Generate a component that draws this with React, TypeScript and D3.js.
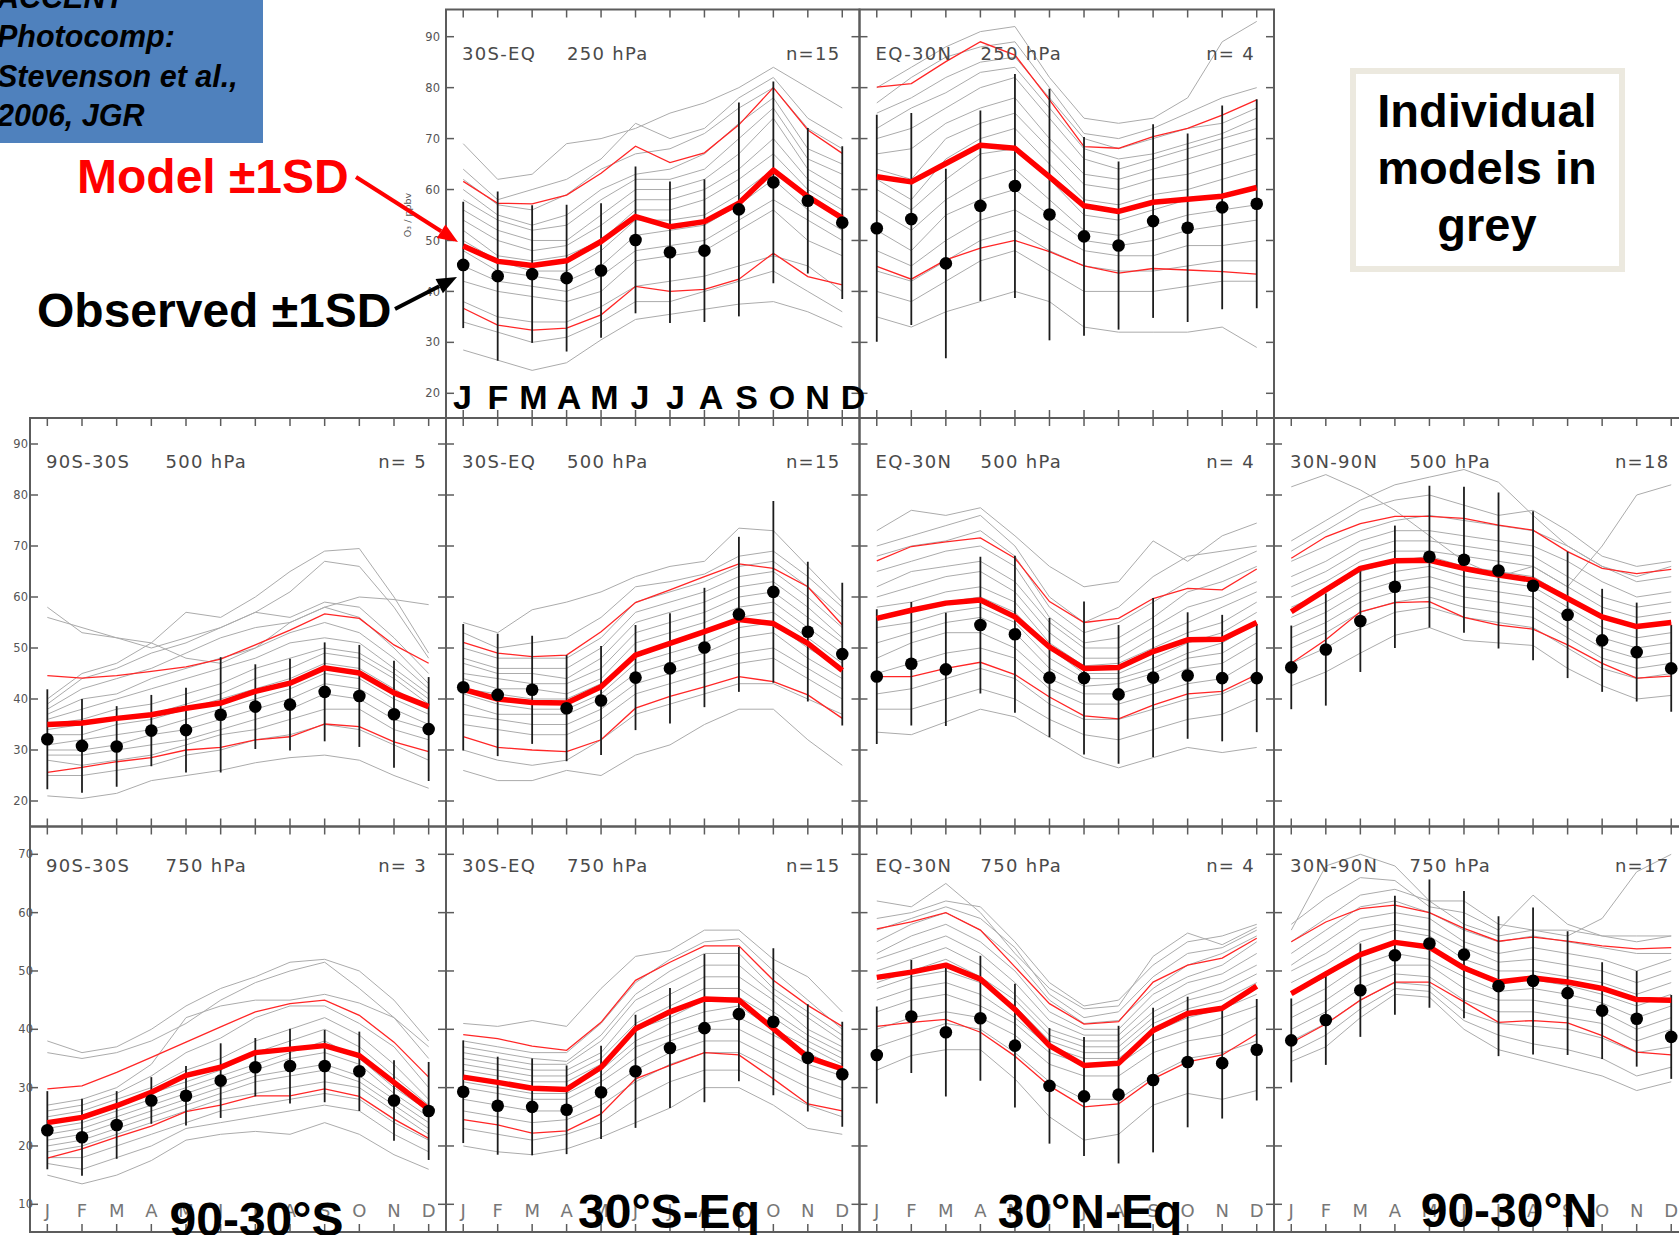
import React from 'react';
import * as d3 from 'd3';

const W = 1679;
const H = 1235;

const MONTHS = ['J', 'F', 'M', 'A', 'M', 'J', 'J', 'A', 'S', 'O', 'N', 'D'];
const Y_TICKS_UPPER = [20, 30, 40, 50, 60, 70, 80, 90];
const Y_TICKS_LOWER = [10, 20, 30, 40, 50, 60, 70];

// ---------- 30S-EQ 250 hPa ----------
const A_OBS = [45.2, 43.0, 43.4, 42.6, 44.1, 50.1, 47.7, 48.0, 56.1, 61.4, 57.8, 53.5];
const A_SD = [12.4, 16.6, 13.5, 14.4, 13.2, 14.4, 13.9, 14.0, 21.0, 19.8, 14.3, 15.0];
const A_MEAN = [48.9, 45.9, 45.1, 46.0, 49.8, 54.7, 52.7, 53.7, 57.3, 63.8, 58.6, 54.4];
const A_HI = [61.6, 57.3, 57.2, 58.9, 63.2, 68.5, 65.3, 67.2, 72.7, 80.0, 71.7, 67.1];
const A_LO = [36.7, 33.4, 32.4, 32.8, 35.4, 41.0, 40.0, 40.4, 42.4, 47.5, 42.9, 41.3];
const A_GREY = [
  [69, 62, 63, 69, 70, 72, 75, 77, 80, 84, 80, 76],
  [64, 58, 60, 62, 66, 73, 70, 72, 78, 82, 74, 70],
  [62, 57, 56, 59, 64, 67, 68, 71, 76, 80, 72, 68],
  [60, 55, 53, 55, 60, 63, 64, 67, 73, 78, 68, 65],
  [58, 54, 52, 53, 58, 62, 62, 64, 70, 76, 66, 63],
  [56, 52, 50, 50, 55, 60, 60, 62, 67, 74, 64, 60],
  [54, 50, 48, 49, 53, 58, 58, 60, 64, 70, 62, 58],
  [52, 47, 46, 47, 50, 56, 56, 58, 62, 67, 60, 56],
  [50, 46, 44, 44, 48, 54, 54, 55, 59, 64, 58, 55],
  [48, 44, 43, 42, 45, 51, 52, 53, 57, 62, 56, 52],
  [45, 42, 41, 40, 43, 48, 49, 50, 54, 58, 54, 50],
  [42, 40, 39, 38, 40, 46, 47, 48, 52, 56, 50, 47],
  [38, 35, 34, 34, 37, 41, 42, 43, 45, 47, 45, 40],
  [34, 32, 30, 31, 34, 38, 38, 40, 42, 44, 40, 36],
  [28.5, 26.5, 24.5, 26, 30.5, 34.5, 35.5, 36.5, 37.5, 38, 36, 33],
];

// ---------- EQ-30N 250 hPa ----------
const B_OBS = [52.4, 54.2, 45.5, 56.8, 60.7, 55.1, 50.8, 49.0, 53.8, 52.5, 56.5, 57.2];
const B_SD = [22.3, 20.8, 18.6, 18.7, 22.0, 24.7, 19.5, 16.5, 19.0, 18.5, 20.0, 20.5];
const B_MEAN = [62.5, 61.5, 65.1, 68.7, 68.1, 62.5, 56.8, 55.7, 57.5, 58.1, 58.7, 60.4];
const B_HI = [80.1, 80.8, 85.1, 89.0, 86.4, 77.6, 68.4, 68.1, 70.4, 72.0, 74.6, 77.6];
const B_LO = [44.9, 42.4, 46.2, 48.5, 50.0, 47.8, 45.0, 43.6, 44.5, 44.2, 43.9, 43.4];
const B_GREY = [
  [80, 84, 88, 91, 92, 82, 74, 73, 74, 78, 89, 93],
  [77, 82, 86, 88, 89, 80, 71, 70, 72, 75, 78, 80],
  [75, 78, 82, 85, 86, 78, 70, 68, 70, 72, 73, 76],
  [72, 76, 79, 83, 84, 76, 68, 66, 67, 69, 71, 74],
  [70, 72, 76, 80, 82, 74, 66, 64, 66, 68, 70, 72],
  [67, 68, 73, 76, 78, 70, 63, 62, 64, 66, 68, 70],
  [64, 62, 70, 73, 75, 68, 61, 60, 62, 63, 65, 67],
  [62, 58, 66, 70, 72, 65, 58, 57, 59, 60, 62, 64],
  [60, 56, 62, 67, 68, 62, 55, 54, 56, 58, 59, 60],
  [56, 52, 58, 62, 64, 58, 52, 51, 53, 55, 56, 57],
  [52, 48, 55, 58, 60, 55, 50, 49, 50, 52, 53, 54],
  [48, 45, 50, 54, 56, 52, 48, 47, 47, 49, 49, 50],
  [44, 42, 46, 50, 52, 48, 45, 44, 44, 45, 46, 46],
  [40, 38, 42, 46, 48, 44, 40, 40, 40, 41, 42, 42],
  [35, 33, 36, 38, 40, 38, 33, 32, 32, 32, 33, 29],
];

// ---------- 90S-30S 500 hPa ----------
const C_OBS = [32.1, 30.8, 30.7, 33.8, 33.9, 36.9, 38.5, 38.9, 41.4, 40.6, 37.0, 34.1];
const C_SD = [9.8, 9.2, 7.9, 7.0, 8.3, 11.3, 8.3, 9.0, 9.7, 10.0, 10.5, 10.2];
const C_MEAN = [35.0, 35.3, 36.2, 36.9, 38.2, 39.2, 41.5, 43.1, 46.1, 45.1, 41.2, 38.5];
const C_HI = [44.6, 44.1, 44.6, 45.4, 46.3, 47.8, 50.6, 53.5, 56.7, 55.8, 50.6, 47.0];
const C_LO = [25.6, 26.6, 27.7, 28.5, 30.0, 30.5, 32.0, 32.6, 35.1, 34.6, 31.6, 29.7];
const C_GREY = [
  [58, 53, 52, 51, 48, 47, 50, 55, 58, 60, 59.5, 58.5],
  [56, 54, 52, 50, 52, 54, 57, 61, 67, 66, 58, 48],
  [40, 45, 47, 51, 57, 56, 60, 65, 69, 69.5, 60, 49],
  [39, 44, 46, 49, 51, 54, 57, 56, 59, 58, 52, 45],
  [38, 42, 44, 46, 49, 52, 54, 55, 58, 56, 50, 43],
  [37, 40, 41, 44, 46, 48, 50, 53, 55, 53, 48, 42],
  [36, 38, 40, 42, 44, 46, 48, 51, 52, 51, 46, 41],
  [35, 36, 38, 39, 41, 43, 46, 48, 50, 49, 45, 40],
  [34, 35, 36, 37, 39, 41, 44, 46, 49, 48, 44, 39],
  [33, 33, 35, 36, 38, 40, 42, 44, 47, 46, 42, 38],
  [31, 32, 33, 34, 36, 38, 40, 42, 45, 44, 40, 37],
  [30, 30, 31, 33, 34, 36, 38, 40, 43, 42, 38, 35],
  [29, 29, 30, 31, 32, 34, 36, 38, 41, 40, 36, 34],
  [28, 27, 28, 29, 31, 33, 34, 36, 38, 38, 34, 32],
  [25, 25, 26, 27, 29, 30, 32, 33, 35, 34, 31, 28],
  [21, 20.5, 21.5, 24, 25, 26, 27.5, 28.5, 29, 28, 25, 22.5],
];

// ---------- 30S-EQ 500 hPa ----------
const D_OBS = [42.3, 40.8, 41.8, 38.2, 39.7, 44.2, 46.0, 50.1, 56.6, 61.0, 53.2, 48.8];
const D_SD = [12.4, 12.0, 10.6, 10.4, 10.7, 10.3, 10.8, 11.7, 15.2, 17.8, 13.7, 14.0];
const D_MEAN = [41.9, 40.0, 39.3, 39.2, 42.4, 48.6, 50.9, 53.2, 55.6, 54.8, 50.9, 45.6];
const D_HI = [51.1, 49.0, 48.3, 48.6, 53.2, 58.9, 61.4, 64.0, 66.5, 65.6, 62.0, 54.5];
const D_LO = [32.6, 30.5, 30.0, 29.7, 32.0, 38.2, 40.5, 42.4, 44.4, 43.4, 40.8, 36.2];
const D_GREY = [
  [55, 53, 57.5, 59, 61, 64, 66, 67, 73.5, 73, 66, 59],
  [53, 50, 51, 52, 56, 62, 63, 64.5, 68, 69, 64, 58],
  [50, 48, 48, 48, 52, 59, 61, 63, 66, 67, 62, 56],
  [48, 46, 46, 46, 50, 57, 59, 61, 64, 65, 60, 54],
  [47, 45, 45, 44, 48, 55, 57, 59, 62, 63, 58, 52],
  [45, 44, 43, 43, 46, 53, 55, 57, 60, 61, 56, 51],
  [44, 42, 42, 41, 44, 51, 53, 55, 58, 59, 54, 49],
  [42, 41, 40, 40, 43, 49, 51, 53, 56, 57, 52, 47],
  [41, 39, 38, 38, 41, 47, 49, 51, 54, 55, 50, 46],
  [39, 37, 37, 37, 40, 45, 47, 49, 52, 53, 48, 44],
  [37, 36, 35, 35, 38, 43, 45, 47, 49, 50, 46, 42],
  [35, 34, 33, 33, 36, 41, 43, 45, 47, 48, 44, 40],
  [30, 28, 27, 28, 32, 37, 39, 41, 43, 43, 40, 37],
  [26, 24, 24, 26, 25, 29, 31, 35, 38, 38, 32, 27],
];

// ---------- EQ-30N 500 hPa ----------
const E_OBS = [44.4, 46.9, 45.8, 54.5, 52.7, 44.2, 44.1, 40.9, 44.2, 44.6, 44.1, 44.1];
const E_SD = [13.2, 12.1, 11.1, 13.4, 15.4, 11.7, 15.0, 13.6, 15.6, 12.4, 12.4, 10.6];
const E_MEAN = [55.8, 57.4, 58.8, 59.4, 56.1, 50.2, 46.0, 46.2, 49.3, 51.6, 51.7, 55.0];
const E_HI = [67.1, 69.9, 70.8, 71.6, 67.6, 59.1, 55.0, 55.8, 59.7, 61.7, 61.4, 65.5];
const E_LO = [44.4, 44.4, 46.0, 47.2, 44.8, 40.4, 36.7, 36.1, 38.8, 41.0, 41.5, 44.8];
const E_GREY = [
  [73, 77, 76, 77.5, 72, 66, 62, 63, 71, 67, 72, 74.5],
  [70, 72, 74, 76, 70, 60, 55, 58, 64, 68, 69, 70],
  [68, 70, 71, 73, 68, 58, 53, 55, 59, 63, 66, 69],
  [65, 67, 69, 70, 66, 56, 51, 52, 56, 61, 63, 66],
  [62, 65, 66, 67, 63, 55, 50, 50, 54, 58, 60, 63],
  [60, 62, 64, 65, 61, 53, 48, 48, 52, 55, 58, 61],
  [58, 59, 61, 62, 59, 51, 46.5, 47, 50, 53, 55, 59],
  [56, 57, 59, 60, 57, 50, 45, 45, 48, 51, 53, 57],
  [54, 55, 57, 58, 55, 48, 44, 44, 46, 49, 51, 55],
  [51, 53, 55, 56, 53, 46, 42.5, 43, 45, 48, 49, 53],
  [48, 51, 53, 53, 50, 44, 41, 41, 43, 46, 47, 51],
  [45, 47, 49, 50, 48, 42, 39, 39, 41, 43, 44, 48],
  [41, 42, 44, 46, 44, 39, 36, 36, 38, 40, 41, 44],
  [38, 38, 40, 42, 40, 36, 33, 32, 34, 36, 37, 40],
  [33.5, 33, 35.5, 38, 36.5, 32.5, 28.5, 26.5, 28.5, 30.5, 29.5, 30.5],
];

// ---------- 30N-90N 500 hPa ----------
const F_OBS = [46.2, 49.7, 55.3, 62.0, 67.9, 67.3, 65.2, 62.2, 56.5, 51.5, 49.2, 46.0];
const F_SD = [8.2, 11.0, 10.0, 12.0, 13.9, 14.3, 15.3, 14.6, 12.4, 10.1, 9.7, 8.5];
const F_MEAN = [57.1, 61.4, 65.6, 67.1, 67.2, 65.6, 64.3, 63.3, 59.7, 56.1, 54.2, 55.0];
const F_HI = [67.6, 71.8, 74.4, 75.8, 75.8, 75.4, 74.1, 73.1, 68.9, 65.6, 64.6, 65.4];
const F_LO = [47.0, 51.6, 57.1, 58.9, 59.1, 56.0, 54.5, 53.7, 50.6, 47.0, 44.1, 44.5];
const F_GREY = [
  [81.6, 84, 81, 77, 72, 67, 64, 66, 62, 70, 80, 82],
  [71, 75, 79, 82, 83.5, 85, 82.5, 76, 70, 66, 64, 66],
  [69, 73, 77, 79, 80, 78, 76, 77, 73, 68, 66, 67],
  [67, 70, 73, 75, 76, 75, 74, 73, 70, 66, 63, 64],
  [64, 67, 71, 73, 73, 72, 71, 70, 67, 63, 60, 61],
  [62, 65, 69, 71, 71, 70, 69, 68, 64, 60, 58, 59],
  [60, 63, 67, 69, 69, 68, 67, 66, 62, 58, 56, 57],
  [58, 61, 65, 67, 68, 66, 65, 64, 60, 56, 54, 55],
  [56, 59, 63, 65, 66, 64, 63, 62, 58, 54, 52, 53],
  [54, 57, 61, 63, 64, 62, 61, 60, 56, 52, 50, 51],
  [52, 55, 59, 61, 62, 60, 59, 58, 54, 50, 48, 49],
  [50, 53, 57, 59, 60, 58, 57, 56, 52, 48, 46, 47],
  [47, 50, 54, 57, 58, 56, 55, 54, 50, 46, 44, 45],
  [42.6, 45.3, 49, 52.5, 54, 51.5, 51, 50.5, 46, 42.6, 40, 40.7],
];

// ---------- 90S-30S 750 hPa ----------
const G_OBS = [22.7, 21.5, 23.6, 27.8, 28.6, 31.2, 33.5, 33.7, 33.7, 32.8, 27.8, 26.0];
const G_SD = [6.7, 6.6, 5.8, 4.0, 5.1, 6.4, 5.0, 6.4, 6.2, 6.8, 6.9, 8.4];
const G_MEAN = [24.0, 24.9, 26.9, 29.2, 32.1, 33.5, 36.0, 36.6, 37.2, 35.5, 30.9, 26.3];
const G_HI = [29.8, 30.3, 32.6, 35.2, 37.8, 40.4, 43.0, 44.4, 45.0, 42.4, 37.8, 31.8];
const G_LO = [17.9, 19.5, 21.5, 23.4, 25.9, 27.0, 28.6, 28.6, 29.8, 28.5, 24.6, 21.3];
const G_GREY = [
  [38, 36, 37, 40, 44, 47, 49, 51.5, 52, 50, 45, 38],
  [36, 35, 36, 38, 41, 45, 48, 50, 51.5, 47, 42, 37],
  [27, 28, 30, 34, 42, 44, 45, 45, 46, 44.5, 42, 35],
  [26, 27, 29, 32, 36, 38.5, 42, 44, 44, 41, 37, 30],
  [25, 26, 28, 30, 33, 35, 38, 40, 42, 39, 34, 28],
  [24, 25, 27, 29, 31, 33, 36, 38, 40, 37, 32, 27],
  [23, 24, 26, 28, 30, 32, 34, 36, 38, 35, 30, 26],
  [22, 23, 25, 27, 29, 31, 33, 35, 36, 34, 29, 25],
  [21, 22, 24, 26, 28, 30, 32, 33, 34, 32, 28, 24],
  [20, 21, 23, 25, 27, 29, 31, 32, 33, 31, 27, 23],
  [19, 20, 22, 24, 26, 28, 29, 30, 31, 30, 26, 22],
  [18, 18, 20, 22, 24, 26, 27, 28, 29, 28, 24, 21],
  [17, 16, 18, 20, 23, 24, 25, 26, 27, 26, 22, 19],
  [15, 13.5, 15, 17.5, 21, 22, 22.5, 22, 24, 22, 18.5, 16],
];

// ---------- 30S-EQ 750 hPa ----------
const H_OBS = [29.3, 26.9, 26.7, 26.2, 29.2, 32.8, 36.8, 40.2, 42.6, 41.3, 35.1, 32.3];
const H_SD = [8.8, 8.4, 8.3, 7.6, 8.0, 9.7, 10.3, 12.7, 11.5, 12.6, 9.2, 9.0];
const H_MEAN = [31.8, 30.9, 29.9, 29.7, 33.5, 40.1, 43.0, 45.2, 45.0, 40.1, 35.2, 33.2];
const H_HI = [39.1, 38.4, 37.1, 36.4, 41.2, 48.4, 51.5, 54.3, 54.3, 48.4, 44.1, 40.5];
const H_LO = [24.5, 23.6, 22.2, 22.6, 25.5, 31.5, 33.8, 36.0, 35.6, 31.5, 27.2, 26.0];
const H_GREY = [
  [41, 40.5, 41.5, 40.5, 47, 52.5, 53.5, 57, 57, 52, 49, 43],
  [38, 37, 36, 36, 41, 48, 52, 55, 55.5, 50, 45, 40],
  [37, 36, 35, 34.5, 39, 46, 50, 53, 53, 47, 43, 39],
  [36, 35, 34, 34, 38, 45, 48, 51, 51, 46, 42, 38],
  [35, 34, 33, 33, 36, 43, 46, 49, 49, 45, 40, 37],
  [34, 33, 32, 32, 35, 41, 44, 47, 47, 43, 39, 36],
  [33, 32, 31, 31, 34, 40, 42, 45, 45.5, 42, 38, 35],
  [32, 31, 30, 30, 33, 38, 41, 43, 44, 40, 37, 34],
  [31, 30, 29, 29, 32, 37, 39, 41, 42, 39, 36, 33],
  [30, 29, 28, 28, 31, 35, 38, 40, 40, 37, 34, 32],
  [28, 27, 26, 26, 29, 33, 36, 38, 38, 35, 32, 30],
  [26, 25, 24, 24.5, 27, 31, 34, 36, 36, 33, 30, 28],
  [23, 22, 21, 22, 24, 28, 31, 33, 33, 30, 27, 25],
  [20, 19, 18.5, 19.5, 21.5, 24, 26.5, 30, 30, 27, 23, 22],
];

// ---------- EQ-30N 750 hPa ----------
const I_OBS = [35.6, 42.2, 39.5, 41.9, 37.2, 30.3, 28.5, 28.8, 31.3, 34.4, 34.2, 36.5];
const I_SD = [8.3, 9.7, 11.0, 10.7, 10.6, 9.9, 10.2, 11.8, 12.4, 11.2, 9.5, 8.7];
const I_MEAN = [48.9, 49.8, 51.0, 48.6, 43.4, 37.2, 33.8, 34.2, 39.8, 42.7, 43.6, 47.4];
const I_HI = [57.2, 58.4, 60.0, 57.0, 50.7, 44.4, 40.9, 41.3, 48.1, 51.0, 52.2, 55.6];
const I_LO = [40.5, 41.2, 41.7, 39.5, 35.4, 30.3, 26.7, 27.2, 31.5, 34.4, 35.6, 39.2];
const I_GREY = [
  [62, 61, 65, 60, 53, 47, 43.5, 44, 52.5, 56.5, 54.5, 57.5],
  [59, 60, 62, 61, 55, 48, 44, 45, 51, 55, 56, 58],
  [57, 59, 61, 59, 54, 46, 42, 43, 49, 53, 54, 57],
  [55, 58, 60, 57, 52, 45, 41, 41.5, 47, 51, 53, 56],
  [53, 56, 58, 55, 50, 43, 40, 40, 46, 49, 51, 55],
  [52, 54, 56, 53, 48, 41.5, 39, 39, 44.5, 48, 49.5, 53],
  [50, 52, 54, 51, 46, 40, 38, 38, 43, 46, 48, 51],
  [48, 50, 52, 49, 45, 39, 37, 37, 42, 45, 46.5, 49.5],
  [47, 49, 50, 48, 44, 38, 36, 36, 41, 43.5, 45, 48],
  [45, 47, 48, 46, 42, 37, 35, 35, 39.5, 42, 43.5, 46],
  [43, 45, 46, 44, 41, 36, 34, 34, 38, 40, 42, 44],
  [40, 42, 43, 42, 39, 34, 32, 32, 36, 38, 39, 42],
  [37, 39, 41, 40, 36, 31, 28, 28, 32, 35, 36, 38],
  [33, 35.5, 36.5, 36.5, 31.5, 25, 21, 22, 27, 29, 28, 29.5],
];

// ---------- 30N-90N 750 hPa ----------
const J_OBS = [38.1, 41.6, 46.7, 52.7, 54.7, 52.8, 47.4, 48.3, 46.2, 43.2, 41.8, 38.7];
const J_SD = [7.2, 7.7, 8.0, 10.2, 11.0, 10.9, 12.0, 12.6, 10.6, 8.3, 8.2, 7.2];
const J_MEAN = [46.1, 49.5, 52.8, 54.9, 54.1, 50.5, 48.1, 48.8, 48.1, 47.0, 45.1, 45.0];
const J_HI = [55.0, 58.4, 60.7, 61.3, 60.0, 57.3, 55.1, 55.8, 55.1, 54.3, 53.8, 54.0];
const J_LO = [37.7, 40.9, 45.0, 48.1, 48.1, 44.7, 41.2, 41.5, 41.1, 38.9, 36.1, 35.6];
const J_GREY = [
  [57, 68, 70, 68, 62, 62, 58, 57, 56, 59, 67, 70],
  [58, 62.5, 66, 65.5, 61, 60, 57, 63, 58, 56, 55, 56],
  [55, 59, 63, 64, 62, 58, 56, 57, 57, 56, 56, 56],
  [53, 57, 61, 62, 60, 57, 55, 56, 55, 54, 53, 53],
  [51, 55, 59, 60, 59, 55, 53, 54, 53, 52, 50, 52],
  [50, 53, 57, 58, 57, 54, 51.5, 52, 51, 50, 48, 50],
  [48, 51, 55, 57, 56, 52, 50, 50, 49, 48, 46, 48],
  [46, 49, 53, 55, 54, 51, 48, 48.5, 47.5, 46, 44, 46],
  [44, 47, 51, 53, 52, 49, 46.5, 47, 46, 44.5, 42, 44],
  [42, 45, 49, 51, 51, 47, 45, 45, 44, 43, 40, 42],
  [40, 43, 47, 49.5, 49, 45, 43, 43, 42, 41, 38, 40],
  [38, 41, 45, 48, 47.5, 43, 41, 40.5, 40, 38.5, 36, 37],
  [36, 39, 43.5, 47, 46.5, 41.5, 39, 37.5, 36.5, 35, 32, 33.5],
  [34.5, 37, 42, 46, 45.5, 40, 36.5, 35, 33.5, 32, 29.5, 31],
];

const BOTTOM_TITLES = ['90-30°S', '30°S-Eq', '30°N-Eq', '90-30°N'];

const PANELS = [
  { row: 0, col: 1, region: '30S-EQ', level: '250', n: '15', grey: A_GREY, mean: A_MEAN, hi: A_HI, lo: A_LO, obs: A_OBS, sd: A_SD },
  { row: 0, col: 2, region: 'EQ-30N', level: '250', n: ' 4', grey: B_GREY, mean: B_MEAN, hi: B_HI, lo: B_LO, obs: B_OBS, sd: B_SD },
  { row: 1, col: 0, region: '90S-30S', level: '500', n: ' 5', grey: C_GREY, mean: C_MEAN, hi: C_HI, lo: C_LO, obs: C_OBS, sd: C_SD },
  { row: 1, col: 1, region: '30S-EQ', level: '500', n: '15', grey: D_GREY, mean: D_MEAN, hi: D_HI, lo: D_LO, obs: D_OBS, sd: D_SD },
  { row: 1, col: 2, region: 'EQ-30N', level: '500', n: ' 4', grey: E_GREY, mean: E_MEAN, hi: E_HI, lo: E_LO, obs: E_OBS, sd: E_SD },
  { row: 1, col: 3, region: '30N-90N', level: '500', n: '18', grey: F_GREY, mean: F_MEAN, hi: F_HI, lo: F_LO, obs: F_OBS, sd: F_SD },
  { row: 2, col: 0, region: '90S-30S', level: '750', n: ' 3', grey: G_GREY, mean: G_MEAN, hi: G_HI, lo: G_LO, obs: G_OBS, sd: G_SD },
  { row: 2, col: 1, region: '30S-EQ', level: '750', n: '15', grey: H_GREY, mean: H_MEAN, hi: H_HI, lo: H_LO, obs: H_OBS, sd: H_SD },
  { row: 2, col: 2, region: 'EQ-30N', level: '750', n: ' 4', grey: I_GREY, mean: I_MEAN, hi: I_HI, lo: I_LO, obs: I_OBS, sd: I_SD },
  { row: 2, col: 3, region: '30N-90N', level: '750', n: '17', grey: J_GREY, mean: J_MEAN, hi: J_HI, lo: J_LO, obs: J_OBS, sd: J_SD },
];

// ---------- layout ----------
const COL_EDGES = [30, 446, 859.5, 1274, 1688.5];
const ROWS = [
  { top: 9.5, bottom: 418, dom: [20, 90], rng: [393.3, 36.7], ticks: Y_TICKS_UPPER, labelDy: 50.5, tickDx: -6, firstCol: 1 },
  { top: 418, bottom: 826.5, dom: [20, 90], rng: [801, 444], ticks: Y_TICKS_UPPER, labelDy: 50, tickDx: -2, firstCol: 0 },
  { top: 826.5, bottom: 1232, dom: [10, 70], rng: [1204.3, 854.3], ticks: Y_TICKS_LOWER, labelDy: 45, tickDx: 3, firstCol: 0 },
];

const FRAME = '#5c5c5c';
const SANS = "'DejaVu Sans', sans-serif";
const ARIAL = "'Liberation Sans', Arial, sans-serif";

function PanelView({ p, idx }: { p: any; idx: number }) {
  const row = ROWS[p.row];
  const L = COL_EDGES[p.col];
  const R = COL_EDGES[p.col + 1];
  const x = d3.scaleLinear().domain([0.5, 12.5]).range([L, R]);
  const y = d3.scaleLinear().domain(row.dom).range(row.rng);
  const line = d3.line<number>().x((_, i) => x(i + 1)).y((d) => y(d));
  const clipId = `pclip${idx}`;
  const months = d3.range(1, 13);
  const tl = 8;
  return (
    <g>
      <defs>
        <clipPath id={clipId}>
          <rect x={L} y={row.top} width={R - L} height={row.bottom - row.top} />
        </clipPath>
      </defs>
      <g clipPath={`url(#${clipId})`}>
        {p.grey.map((g: number[], i: number) => (
          <path key={i} d={line(g) || ''} fill="none" stroke="#ababab" strokeWidth={1} />
        ))}
        <path d={line(p.hi) || ''} fill="none" stroke="#ff2626" strokeWidth={1.3} />
        <path d={line(p.lo) || ''} fill="none" stroke="#ff2626" strokeWidth={1.3} />
        {p.obs.map((o: number, i: number) => (
          <line key={i} x1={x(i + 1)} x2={x(i + 1)} y1={y(o - p.sd[i])} y2={y(o + p.sd[i])} stroke="#1c1c1c" strokeWidth={1.8} />
        ))}
        <path d={line(p.mean) || ''} fill="none" stroke="#ff0000" strokeWidth={5.5} strokeLinejoin="round" />
        {p.obs.map((o: number, i: number) => (
          <circle key={i} cx={x(i + 1)} cy={y(o)} r={6.3} fill="#000" />
        ))}
      </g>
      <rect x={L} y={row.top} width={R - L} height={row.bottom - row.top} fill="none" stroke={FRAME} strokeWidth={2} />
      {row.ticks.map((t: number) => (
        <g key={t}>
          <line x1={L} x2={L + tl} y1={y(t)} y2={y(t)} stroke={FRAME} strokeWidth={1.5} />
          <line x1={R - tl} x2={R} y1={y(t)} y2={y(t)} stroke={FRAME} strokeWidth={1.5} />
        </g>
      ))}
      {months.map((m) => (
        <g key={m}>
          <line x1={x(m)} x2={x(m)} y1={row.top} y2={row.top + tl} stroke={FRAME} strokeWidth={1.5} />
          <line x1={x(m)} x2={x(m)} y1={row.bottom - tl} y2={row.bottom} stroke={FRAME} strokeWidth={1.5} />
        </g>
      ))}
      {p.col === row.firstCol &&
        row.ticks.map((t: number) => (
          <text key={t} x={L + row.tickDx} y={y(t)} dy="0.36em" textAnchor="end" fontFamily={SANS} fontSize={11.5} fill="#555">
            {t}
          </text>
        ))}
      <text x={L + 16} y={row.top + row.labelDy} fontFamily={SANS} fontSize={18} fill="#4a4a4a" letterSpacing={1.3}>
        {p.region}
      </text>
      <text x={L + 16 + p.region.length * 14.5 + 18} y={row.top + row.labelDy} fontFamily={SANS} fontSize={18} fill="#4a4a4a" letterSpacing={1.3}>
        {`${p.level} hPa`}
      </text>
      <text x={R - 19} y={row.top + row.labelDy} textAnchor="end" fontFamily={SANS} fontSize={18} fill="#4a4a4a" letterSpacing={1.3} style={{ whiteSpace: 'pre' }}>
        {`n=${p.n}`}
      </text>
      {p.row === 2 &&
        months.map((m) => (
          <text key={m} x={x(m)} y={1217} textAnchor="middle" fontFamily={SANS} fontSize={18} fill="#777">
            {MONTHS[m - 1]}
          </text>
        ))}
    </g>
  );
}

function Arrow({ x1, y1, x2, y2, color, w, hl, hw }: any) {
  const a = Math.atan2(y2 - y1, x2 - x1);
  const bx = x2 - hl * Math.cos(a);
  const by = y2 - hl * Math.sin(a);
  const px = (-Math.sin(a) * hw) / 2;
  const py = (Math.cos(a) * hw) / 2;
  return (
    <g>
      <line x1={x1} y1={y1} x2={bx} y2={by} stroke={color} strokeWidth={w} />
      <polygon points={`${x2},${y2} ${bx + px},${by + py} ${bx - px},${by - py}`} fill={color} />
    </g>
  );
}

export default function App() {
  const bottomCenters = [256.5, 669, 1090, 1509];
  const bottomBaselines = [1236, 1228, 1228, 1227];
  return (
    <svg width={W} height={H} viewBox={`0 0 ${W} ${H}`} style={{ position: 'absolute', left: 0, top: 0, background: '#fff' }}>
      <rect x={0} y={0} width={W} height={H} fill="#fff" />
      {PANELS.map((p, i) => (
        <PanelView key={i} p={p} idx={i} />
      ))}

      {/* y axis title of top panel */}
      <text transform="translate(411,215) rotate(-90)" textAnchor="middle" fontFamily={SANS} fontSize={9.5} fill="#555">
        O₃ / ppbv
      </text>

      {/* big month letters under top row */}
      {MONTHS.map((m, i) => (
        <text key={i} x={462.5 + i * 35.5} y={409} textAnchor="middle" fontFamily={ARIAL} fontWeight="bold" fontSize={34} fill="#000">
          {m}
        </text>
      ))}

      {/* blue reference box */}
      <rect x={0} y={0} width={263} height={143} fill="#4f81bd" />
      <g fontFamily={ARIAL} fontWeight="bold" fontStyle="italic" fontSize={30.5} fill="#000">
        <text x={-3} y={8}>ACCENT</text>
        <text x={-3} y={47}>Photocomp:</text>
        <text x={-3} y={87}>Stevenson et al.,</text>
        <text x={-3} y={126}>2006, JGR</text>
      </g>

      {/* annotations */}
      <text x={77} y={193} fontFamily={ARIAL} fontWeight="bold" fontSize={48} fill="#ff0000">
        Model ±1SD
      </text>
      <Arrow x1={356} y1={177} x2={458} y2={242} color="#ff0000" w={4} hl={20} hw={16} />
      <text x={37} y={327} fontFamily={ARIAL} fontWeight="bold" fontSize={48} fill="#000">
        Observed ±1SD
      </text>
      <Arrow x1={395} y1={309} x2={457} y2={277} color="#000" w={4} hl={20} hw={16} />

      {/* note box */}
      <rect x={1353} y={71} width={269} height={198} fill="#fff" stroke="#ece9df" strokeWidth={6} />
      <g fontFamily={ARIAL} fontWeight="bold" fontSize={47} fill="#000" textAnchor="middle">
        <text x={1487} y={127}>Individual</text>
        <text x={1487} y={184}>models in</text>
        <text x={1487} y={241}>grey</text>
      </g>

      {/* bottom region titles */}
      {BOTTOM_TITLES.map((t, i) => (
        <text key={t} x={bottomCenters[i]} y={bottomBaselines[i]} textAnchor="middle" fontFamily={ARIAL} fontWeight="bold" fontSize={48} fill="#000">
          {t}
        </text>
      ))}
    </svg>
  );
}
